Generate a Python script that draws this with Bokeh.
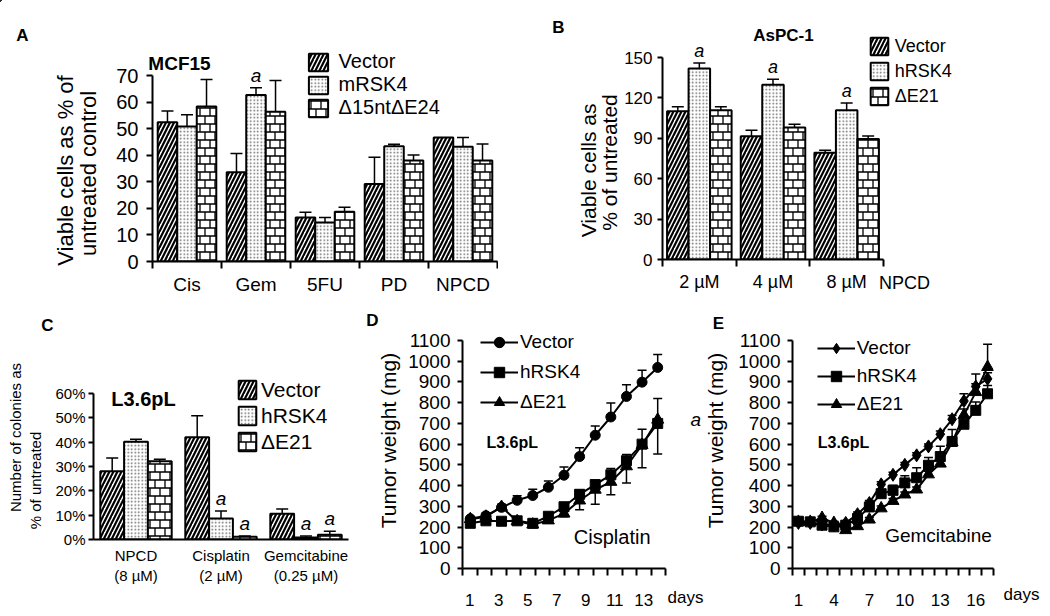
import numpy as np
from bokeh.plotting import figure
from bokeh.models import (Range1d, FixedTicker, Label, Legend, LegendItem, Whisker, TeeHead,
                          ColumnDataSource, CanvasTexture, PrintfTickFormatter)
from bokeh.core.properties import value
from bokeh.embed import file_html
from bokeh.resources import INLINE

FONT = "Liberation Sans"

# ---------------- data ----------------
A_groups = ["Cis", "Gem", "5FU", "PD", "NPCD"]
A_names = ["Vector", "mRSK4", "Δ15ntΔE24"]
A_vector = [52.4, 33.6, 16.6, 29.2, 46.7]
A_vector_err = [4.2, 7.0, 1.9, 10.0, 0.0]
A_mrsk4 = [50.8, 62.7, 14.7, 43.4, 43.2]
A_mrsk4_err = [4.4, 2.7, 1.9, 0.7, 3.5]
A_d15 = [58.3, 56.4, 18.7, 38.0, 38.0]
A_d15_err = [10.2, 11.7, 1.7, 2.1, 6.2]
A_sig = [[0, 0, 0, 0, 0], [0, 1, 0, 0, 0], [0, 0, 0, 0, 0]]

B_groups = ["2 µM", "4 µM", "8 µM"]
B_names = ["Vector", "hRSK4", "ΔE21"]
B_vector = [110.1, 91.6, 79.2]
B_vector_err = [3.3, 4.4, 2.0]
B_hrsk4 = [141.8, 129.7, 110.9]
B_hrsk4_err = [4.2, 4.2, 5.4]
B_de21 = [110.9, 98.0, 89.4]
B_de21_err = [2.5, 2.5, 2.4]
B_sig = [[0, 0, 0], [1, 1, 1], [0, 0, 0]]

C_groups = ["NPCD", "Cisplatin", "Gemcitabine"]
C_doses = ["(8 µM)", "(2 µM)", "(0.25 µM)"]
C_names = ["Vector", "hRSK4", "ΔE21"]
C_vector = [28.0, 42.0, 10.6]
C_vector_err = [5.5, 8.9, 1.9]
C_hrsk4 = [40.2, 8.6, 0.8]
C_hrsk4_err = [1.0, 3.1, 0.6]
C_de21 = [32.2, 1.1, 2.0]
C_de21_err = [0.8, 0.3, 1.4]
C_sig = [[0, 0, 0], [0, 1, 1], [0, 1, 1]]

D_days = list(range(1, 14))
D_vector = [240, 255, 295, 329, 352, 392, 450, 540, 643, 731, 830, 899, 970]
D_vector_err = [10, 12, 15, 22, 30, 30, 40, 42, 45, 68, 57, 57, 62]
D_hrsk4 = [218, 230, 228, 230, 218, 252, 298, 358, 405, 452, 520, 600, 700]
D_hrsk4_err = [8, 8, 8, 8, 10, 12, 12, 20, 15, 30, 30, 72, 120]
D_de21 = [238, 250, 297, 228, 212, 232, 265, 328, 380, 418, 493, 596, 718]
D_de21_err = [8, 8, 10, 8, 10, 10, 15, 45, 70, 62, 80, 110, 165]
D_de21_sig = [0] * 12 + [1]
D_tick_days = [1, 3, 5, 7, 9, 11, 13]

E_days = list(range(1, 18))
E_vector = [220, 220, 212, 209, 220, 262, 316, 406, 452, 500, 546, 589, 648, 720, 808, 878, 915]
E_vector_err = [8, 8, 8, 8, 8, 10, 12, 12, 12, 12, 12, 12, 15, 18, 35, 60, 30]
E_hrsk4 = [228, 225, 209, 201, 209, 241, 297, 361, 377, 413, 438, 498, 540, 613, 696, 763, 843]
E_hrsk4_err = [8, 8, 8, 8, 8, 10, 12, 15, 25, 35, 48, 38, 50, 58, 40, 40, 40]
E_de21 = [225, 225, 244, 220, 185, 204, 236, 290, 326, 357, 381, 454, 506, 608, 740, 851, 972]
E_de21_err = [8, 8, 8, 8, 8, 8, 10, 12, 12, 12, 12, 15, 15, 20, 30, 40, 110]
E_tick_days = [1, 4, 7, 10, 13, 16]

# ---------------- panel geometry (page pixels) ----------------
GA = dict(ox=0, oy=0, W=498, H=300, L=152, R=497, T=75, B=261, x0=0, x1=5, y0=0, y1=70)
GB = dict(ox=498, oy=0, W=552, H=300, L=662, R=883, T=57, B=259, x0=0, x1=3, y0=0, y1=150)
GC = dict(ox=0, oy=300, W=362, H=316, L=93, R=348, T=393, B=539, x0=0, x1=3, y0=0, y1=60)
GD = dict(ox=362, oy=300, W=344, H=316, L=462, R=665, T=340, B=568, x0=0.5, x1=13.5, y0=0, y1=1100)
GE = dict(ox=706, oy=300, W=344, H=316, L=792, R=993, T=340, B=568, x0=0.5, x1=17.5, y0=0, y1=1100)
PAGE_W, PAGE_H = 1050, 616
OFF = -5000  # legend proxy glyphs live far outside the overlay's visible range

BRICK_JS = """
const c = ctx.canvas;
c.width = 20; c.height = 16;
ctx.clearRect(0, 0, 20, 16);
ctx.strokeStyle = "#000000";
ctx.lineWidth = 1.3;
ctx.beginPath();
ctx.moveTo(0, 4); ctx.lineTo(20, 4);
ctx.moveTo(0, 12); ctx.lineTo(20, 12);
ctx.moveTo(5, 4); ctx.lineTo(5, 12);
ctx.moveTo(15, 4); ctx.lineTo(15, 12);
for (const x of [0, 10, 20]) {
  ctx.moveTo(x, 12); ctx.lineTo(x, 16);
  ctx.moveTo(x, 0); ctx.lineTo(x, 4);
}
ctx.stroke();
"""
BRICK = CanvasTexture(code=BRICK_JS)


def bar_style(j):
    if j == 0:
        return dict(fill_color="white", hatch_pattern="right_diagonal_line", hatch_scale=8,
                    hatch_weight=2.2, hatch_color="black")
    if j == 1:
        return dict(fill_color="white", hatch_pattern="dot", hatch_scale=3.5,
                    hatch_weight=1.1, hatch_color="#666666")
    return dict(fill_color="white", hatch_pattern=value("brick"),
                hatch_extra={"brick": BRICK}, hatch_scale=16,
                hatch_weight=1.3, hatch_color="black")


def make_fig(G):
    p = figure(width=G["W"], height=G["H"], x_range=Range1d(G["x0"], G["x1"]),
               y_range=Range1d(G["y0"], G["y1"]), output_backend="svg",
               toolbar_location=None, title=None,
               min_border_left=G["L"] - G["ox"], min_border_right=G["ox"] + G["W"] - G["R"],
               min_border_top=G["T"] - G["oy"], min_border_bottom=G["oy"] + G["H"] - G["B"],
               styles={"position": "absolute", "left": f"{G['ox']}px", "top": f"{G['oy']}px"})
    p.outline_line_color = None
    p.xgrid.visible = False
    p.ygrid.visible = False
    p.background_fill_color = None
    p.border_fill_color = None
    for ax in (p.xaxis[0], p.yaxis[0]):
        ax.axis_line_width = 2
        ax.axis_line_color = "black"
        ax.major_tick_line_width = 2
        ax.minor_tick_line_width = 2
        ax.major_tick_in = 0
        ax.minor_tick_in = 0
        ax.major_label_text_font = FONT
        ax.major_label_text_color = "black"
    return p


def to_page(G, x, y):
    px = G["L"] + (x - G["x0"]) / (G["x1"] - G["x0"]) * (G["R"] - G["L"])
    py = G["B"] - (y - G["y0"]) / (G["y1"] - G["y0"]) * (G["B"] - G["T"])
    return px, py


# overlay figure: page-pixel coordinates for texts and legends outside the frames
ov = figure(width=PAGE_W, height=PAGE_H, x_range=Range1d(0, PAGE_W), y_range=Range1d(PAGE_H, 0),
            output_backend="svg", toolbar_location=None, title=None,
            x_axis_location=None, y_axis_location=None, min_border=0,
            styles={"position": "absolute", "left": "0px", "top": "0px"})
ov.outline_line_color = None
ov.xgrid.visible = False
ov.ygrid.visible = False
ov.background_fill_color = None
ov.border_fill_color = None


def put(px, py, text, size, style="normal", angle=0.0, align="center", baseline="middle"):
    ov.add_layout(Label(x=px, y=py, text=text, text_font=FONT, text_font_size=f"{size}px",
                        text_font_style=style, text_align=align, text_baseline=baseline,
                        angle=angle, text_color="black"))


def make_legend(items, left_px, bottom_px, size, gw, gh, spacing, standoff):
    leg = Legend(items=items, location=(left_px, PAGE_H - bottom_px),
                 orientation="vertical", padding=0, margin=0, spacing=int(spacing),
                 glyph_width=int(gw), glyph_height=int(gh), label_height=int(gh),
                 label_standoff=int(standoff),
                 label_text_font=FONT, label_text_font_size=f"{size}px",
                 label_text_color="black", border_line_alpha=0, background_fill_alpha=0)
    ov.add_layout(leg)


def bar_legend_items(names):
    items = []
    for j, nm in enumerate(names):
        r = ov.vbar(x=[OFF], top=[OFF], bottom=OFF - 1, width=0.3, line_color="black",
                    line_width=2, **bar_style(j))
        items.append(LegendItem(label=nm, renderers=[r]))
    return items


def bars(p, G, n, vals, errs, sigs, width, cap, a_size):
    for j in range(3):
        xs = [i + 0.5 + (j - 1) * width for i in range(n)]
        src = ColumnDataSource(dict(x=xs, top=vals[j]))
        p.vbar(x="x", top="top", bottom=0, width=width, source=src,
               line_color="black", line_width=2, **bar_style(j))
        ex = [x for x, e in zip(xs, errs[j]) if e > 0]
        lo = [v for v, e in zip(vals[j], errs[j]) if e > 0]
        hi = [v + e for v, e in zip(vals[j], errs[j]) if e > 0]
        esrc = ColumnDataSource(dict(x=ex, lo=lo, hi=hi))
        p.add_layout(Whisker(source=esrc, base="x", lower="lo", upper="hi", dimension="height",
                             lower_head=None, upper_head=TeeHead(size=cap, line_width=1.5),
                             line_width=1.5, line_color="black", level="annotation"))
        for i, s in enumerate(sigs[j]):
            if s:
                px, py = to_page(G, xs[i], vals[j][i] + errs[j][i])
                put(px, py - 2, "a", a_size, "italic", baseline="bottom")


def group_axis(p, labels, size, tick_out, standoff):
    n = len(labels)
    centers = [i + 0.5 for i in range(n)]
    p.xaxis.ticker = FixedTicker(ticks=centers, minor_ticks=list(range(n + 1)))
    p.xaxis.major_label_overrides = {c: lab for c, lab in zip(centers, labels)}
    p.xaxis.major_tick_out = 0
    p.xaxis.minor_tick_out = tick_out
    p.xaxis.major_label_standoff = standoff
    p.xaxis.major_label_text_font_size = f"{size}px"


def y_axis(p, ticks, size, tick_out, standoff):
    p.yaxis.ticker = FixedTicker(ticks=ticks, minor_ticks=[])
    p.yaxis.major_tick_out = tick_out
    p.yaxis.major_label_standoff = standoff
    p.yaxis.major_label_text_font_size = f"{size}px"


# ---------------- panel A ----------------
pA = make_fig(GA)
group_axis(pA, A_groups, 19, 7, 5)
y_axis(pA, list(range(0, 71, 10)), 20, 6, 8)
bars(pA, GA, 5, [A_vector, A_mrsk4, A_d15], [A_vector_err, A_mrsk4_err, A_d15_err], A_sig, 0.283, 12, 19)
make_legend(bar_legend_items(A_names), 305.6, 119.2, 20, 24, 22, 0, 9)
put(22, 35, "A", 17, "bold")
put(179, 63, "MCF15", 19, "bold")
put(65, 170, "Viable cells as % of", 22, angle=np.pi / 2)
put(88, 173, "untreated control", 22, angle=np.pi / 2)

# ---------------- panel B ----------------
pB = make_fig(GB)
group_axis(pB, B_groups, 18, 7, 5)
y_axis(pB, list(range(0, 151, 30)), 17, 5, 5)
bars(pB, GB, 3, [B_vector, B_hrsk4, B_de21], [B_vector_err, B_hrsk4_err, B_de21_err], B_sig, 0.292, 12, 18)
make_legend(bar_legend_items(B_names), 867.8, 107, 18, 22, 22, 3, 5)
put(558, 27, "B", 17, "bold")
put(783, 35, "AsPC-1", 17, "bold")
put(588, 167, "Viable cells  as", 21, angle=np.pi / 2)
put(609, 162, "% of untreated", 21, angle=np.pi / 2)
put(904, 282, "NPCD", 18)

# ---------------- panel C ----------------
pC = make_fig(GC)
pC.xaxis.ticker = FixedTicker(ticks=[], minor_ticks=[])
pC.xaxis.major_label_text_font_size = "0px"
y_axis(pC, list(range(0, 61, 10)), 15, 5, 3)
pC.yaxis.formatter = PrintfTickFormatter(format="%d%%")
bars(pC, GC, 3, [C_vector, C_hrsk4, C_de21], [C_vector_err, C_hrsk4_err, C_de21_err], C_sig, 0.28, 12, 19)
make_legend(bar_legend_items(C_names), 236, 453.5, 21, 22, 23, 2, 3)
for i, (g1, g2) in enumerate(zip(C_groups, C_doses)):
    gx, _ = to_page(GC, i + 0.5, 0)
    put(gx, 555, g1, 15)
    put(gx, 575, g2, 15)
put(47, 325, "C", 17, "bold")
put(143, 398, "L3.6pL", 20, "bold")
put(15, 437, "Number of colonies as", 15, angle=np.pi / 2)
put(35, 480, "% of untreated", 15, angle=np.pi / 2)


# ---------------- line panels ----------------
def line_series(p, days, vals, errs, direction, marker, size):
    if direction == "up":
        lo, hi = vals, [v + e for v, e in zip(vals, errs)]
        heads = dict(lower_head=None, upper_head=TeeHead(size=9, line_width=1.5))
    else:
        lo, hi = [v - e for v, e in zip(vals, errs)], vals
        heads = dict(upper_head=None, lower_head=TeeHead(size=9, line_width=1.5))
    esrc = ColumnDataSource(dict(x=days, lo=lo, hi=hi))
    p.add_layout(Whisker(source=esrc, base="x", lower="lo", upper="hi", dimension="height",
                         line_width=1.5, line_color="black", **heads))
    p.line(days, vals, line_color="black", line_width=2)
    p.scatter(days, vals, marker=marker, size=size, fill_color="black", line_color="black")


def line_legend_items(specs):
    items = []
    for name, marker, size in specs:
        rl = ov.line(x=[OFF, OFF + 1], y=[OFF, OFF], line_color="black", line_width=2)
        rm = ov.scatter(x=[OFF], y=[OFF], marker=marker, size=size, fill_color="black",
                        line_color="black")
        items.append(LegendItem(label=name, renderers=[rl, rm]))
    return items


def day_axis(p, x0, x1, nslots, label_days, size, standoff):
    slot = (x1 - x0) / nslots
    bounds = [x0 + i * slot for i in range(nslots + 1)]
    pos = [x0 + (d - 0.5) * slot for d in label_days]
    p.xaxis.ticker = FixedTicker(ticks=pos, minor_ticks=bounds)
    p.xaxis.major_label_overrides = {q: str(d) for q, d in zip(pos, label_days)}
    p.xaxis.major_tick_out = 0
    p.xaxis.minor_tick_out = 7
    p.xaxis.major_label_standoff = standoff
    p.xaxis.major_label_text_font_size = f"{size}px"


# panel D
pD = make_fig(GD)
day_axis(pD, GD["x0"], GD["x1"], 14, D_tick_days, 17, 18)
y_axis(pD, list(range(0, 1101, 100)), 19, 5, 7)
line_series(pD, D_days, D_vector, D_vector_err, "up", "circle", 10)
line_series(pD, D_days, D_hrsk4, D_hrsk4_err, "up", "square", 10)
line_series(pD, D_days, D_de21, D_de21_err, "down", "triangle", 12)
for i, s in enumerate(D_de21_sig):
    if s:
        px, py = to_page(GD, D_days[i], D_de21[i])
        put(px + 38, py, "a", 19, "italic")
make_legend(line_legend_items([("Vector", "circle", 10), ("hRSK4", "square", 10), ("ΔE21", "triangle", 12)]),
            480, 414.7, 19, 38, 26, 4, 2)
put(372, 320, "D", 17, "bold")
put(511.7, 441.7, "L3.6pL", 16, "bold")
put(611.7, 536.7, "Cisplatin", 20)
put(388, 440, "Tumor weight (mg)", 21, angle=np.pi / 2)
put(685, 597, "days", 17)

# panel E
pE = make_fig(GE)
day_axis(pE, GE["x0"], GE["x1"], 17, E_tick_days, 17, 18)
y_axis(pE, list(range(0, 1101, 100)), 19, 5, 7)
line_series(pE, E_days, E_vector, E_vector_err, "up", "diamond", 13)
line_series(pE, E_days, E_hrsk4, E_hrsk4_err, "up", "square", 10)
line_series(pE, E_days, E_de21, E_de21_err, "up", "triangle", 12)
make_legend(line_legend_items([("Vector", "diamond", 13), ("hRSK4", "square", 10), ("ΔE21", "triangle", 12)]),
            816.7, 417.3, 19, 38, 26, 2, 2)
put(718, 323, "E", 17, "bold")
put(843, 441.7, "L3.6pL", 16, "bold")
put(938, 535, "Gemcitabine", 19)
put(715, 440, "Tumor weight (mg)", 21, angle=np.pi / 2)
put(1021, 594, "days", 17)

open("out.html", "w").write(file_html([pA, pB, pC, pD, pE, ov], INLINE))
